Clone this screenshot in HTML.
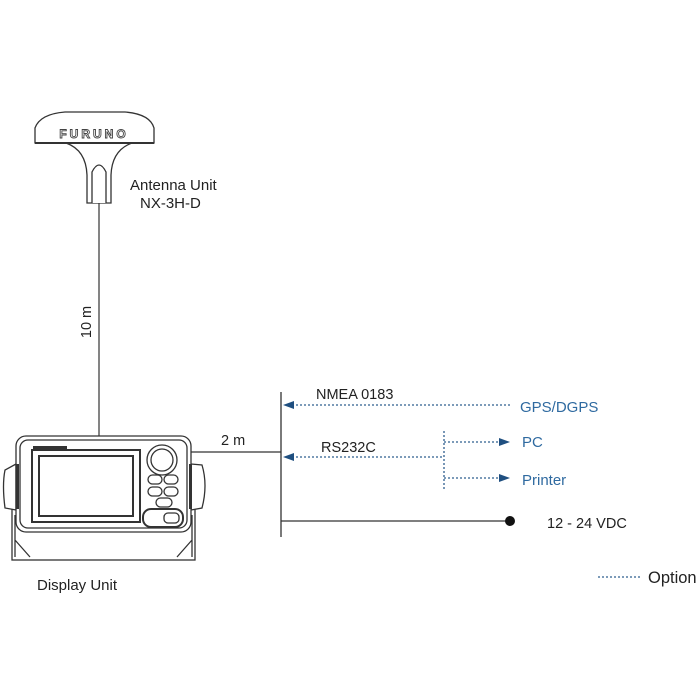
<!DOCTYPE html>
<html><head><meta charset="utf-8"><style>
html,body{margin:0;padding:0;background:#fff;}
svg{display:block;}
text{font-family:"Liberation Sans",sans-serif;}
</style></head><body>
<svg width="700" height="700" viewBox="0 0 700 700" xmlns="http://www.w3.org/2000/svg">
<!-- antenna -->
<g fill="#fff" stroke="#333" stroke-width="1.3">
<path d="M66 143 Q86 150 87 175 L87 203 L111 203 L111 175 Q112 150 132 143 Z"/>
<path d="M92 203 L92 172 Q99 158 106 172 L106 203"/>
<path d="M35 143 L35 128 Q40 114 65 112 L125 112 Q150 114 154 128 L154 143 Z"/>
<line x1="35" y1="143" x2="154" y2="143" stroke-width="2"/>
</g>
<text x="94" y="138" font-size="12" font-weight="bold" fill="#fff" stroke="#444" stroke-width="0.9" text-anchor="middle" letter-spacing="3">FURUNO</text>
<line x1="99" y1="203" x2="99" y2="436" stroke="#333" stroke-width="1.2"/>
<text x="130" y="190" font-size="15" fill="#222">Antenna Unit</text>
<text x="140" y="208" font-size="15" fill="#222">NX-3H-D</text>
<text transform="translate(91,322) rotate(-90)" font-size="14.5" fill="#222" text-anchor="middle">10 m</text>
<!-- display -->
<g fill="#fff" stroke="#333" stroke-width="1.3">
<rect x="12" y="500" width="183" height="60"/>
<path d="M15 515 L15 557 M192 515 L192 557 M15 540 L30 557 M192 540 L177 557"/>
<path d="M5 470 Q2 485 5 508 L16 510 L16 464 Z"/>
<path d="M191 464 L202 465 Q208 485 202 508 L191 510 Z"/>
<rect x="16" y="436" width="175" height="96" rx="10"/>
<rect x="20" y="440" width="167" height="88" rx="8"/>
<rect x="32" y="450" width="108" height="72" stroke-width="2"/>
<rect x="39" y="456" width="94" height="60" stroke-width="2"/>
<circle cx="162" cy="460" r="15"/>
<circle cx="162" cy="460" r="11"/>
<rect x="148" y="475" width="14" height="9" rx="4.5"/>
<rect x="164" y="475" width="14" height="9" rx="4.5"/>
<rect x="148" y="487" width="14" height="9" rx="4.5"/>
<rect x="164" y="487" width="14" height="9" rx="4.5"/>
<rect x="156" y="498" width="16" height="9" rx="4.5"/>
<rect x="143" y="509" width="40" height="18" rx="8" stroke-width="2"/>
<rect x="164" y="513" width="15" height="10" rx="4"/>
</g>
<rect x="33" y="446" width="34" height="3" fill="#333"/>
<rect x="16" y="464" width="3" height="45" fill="#333"/>
<rect x="189" y="464" width="3" height="45" fill="#333"/>
<text x="37" y="590" font-size="15" fill="#222">Display Unit</text>
<!-- bus -->
<g stroke="#333" stroke-width="1.3">
<line x1="191" y1="452" x2="281" y2="452"/>
<line x1="281" y1="392" x2="281" y2="537"/>
<line x1="281" y1="521" x2="508" y2="521"/>
</g>
<circle cx="510" cy="521" r="5" fill="#111"/>
<text x="221" y="445" font-size="14.5" fill="#222">2 m</text>
<text x="316" y="399" font-size="14.5" fill="#222">NMEA 0183</text>
<text x="321" y="452" font-size="14.5" fill="#222">RS232C</text>
<text x="547" y="528" font-size="14.5" fill="#222">12 - 24 VDC</text>
<!-- option lines -->
<g stroke="#2f5f8f" stroke-width="1.3" stroke-dasharray="2,2" fill="none">
<line x1="292" y1="405" x2="512" y2="405"/>
<line x1="292" y1="457" x2="444" y2="457"/>
<line x1="444" y1="431" x2="444" y2="491"/>
<line x1="444" y1="442" x2="500" y2="442"/>
<line x1="444" y1="478" x2="500" y2="478"/>
<line x1="598" y1="577" x2="640" y2="577"/>
</g>
<g fill="#1f4f80">
<polygon points="283,405 294,401 294,409"/>
<polygon points="283,457 294,453 294,461"/>
<polygon points="510,442 499,438 499,446"/>
<polygon points="510,478 499,474 499,482"/>
</g>
<text x="520" y="412" font-size="15" fill="#2f6aa0">GPS/DGPS</text>
<text x="522" y="447" font-size="15" fill="#2f6aa0">PC</text>
<text x="522" y="485" font-size="15" fill="#2f6aa0">Printer</text>
<text x="648" y="583" font-size="16.5" fill="#222">Option</text>
</svg>
</body></html>
